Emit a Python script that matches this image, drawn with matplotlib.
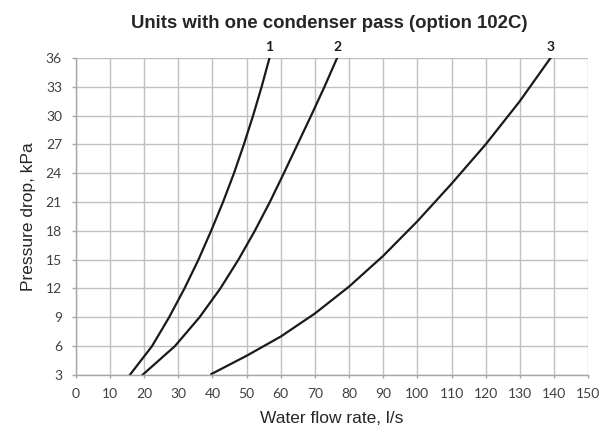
import matplotlib
matplotlib.use("Agg")
import matplotlib.pyplot as plt

# Curves 1 and 2: flow rate (l/s) read at each pressure gridline (kPa)
pressure_12 = [3, 6, 9, 12, 15, 18, 21, 24, 27, 30, 33, 36]
flow_1 = [15.8, 22.3, 27.3, 31.8, 35.9, 39.6, 43.1, 46.3, 49.2, 51.9, 54.4, 56.7]
flow_2 = [19.5, 29.0, 36.2, 42.3, 47.6, 52.4, 56.8, 60.9, 64.9, 68.9, 72.8, 76.5]
# Curve 3: pressure drop (kPa) read at each flow gridline (l/s)
flow_3 = [39.7, 50, 60, 70, 80, 90, 100, 110, 120, 130, 139]
pressure_3 = [3.1, 5.0, 7.0, 9.4, 12.2, 15.4, 19.0, 22.9, 27.0, 31.5, 36.0]
curve_names = ["1", "2", "3"]

x_ticks = list(range(0, 151, 10))
y_ticks = list(range(3, 37, 3))

tick_font = "Lato"
label_font = "Liberation Sans"

fig = plt.figure(figsize=(6.02, 4.32), dpi=100)
ax = fig.add_axes([0.126, 0.132, 0.851, 0.734])

curves = [(flow_1, pressure_12), (flow_2, pressure_12), (flow_3, pressure_3)]
for (flow, dp), name in zip(curves, curve_names):
    ax.plot(flow, dp, color="#1a1a1a", linewidth=1.6, solid_joinstyle="round")
    ax.text(flow[-1], dp[-1] + 0.69, name, ha="center", va="baseline",
            fontsize=10, fontweight="bold", family=tick_font, color="#1a1a1a")

ax.set_xlim(0, 150)
ax.set_ylim(3, 36)
ax.set_xticks(x_ticks)
ax.set_yticks(y_ticks)
ax.grid(True, color="#c0c0c0", linewidth=1.0)
ax.set_axisbelow(True)

for side in ["top", "right"]:
    ax.spines[side].set_visible(False)
for side in ["left", "bottom"]:
    ax.spines[side].set_color("#a6a6a6")
    ax.spines[side].set_linewidth(1.0)

ax.tick_params(axis="y", length=3, width=1, color="#a6a6a6", pad=7)
ax.tick_params(axis="x", length=2.5, width=1, color="#a6a6a6", pad=7)
for lab in ax.get_xticklabels() + ax.get_yticklabels():
    lab.set_family(tick_font)
    lab.set_fontsize(10)
    lab.set_color("#404040")

ax.set_xlabel("Water flow rate, l/s", family=label_font, fontsize=12.5, color="#262626", labelpad=8)
ax.set_ylabel("Pressure drop, kPa", family=label_font, fontsize=12.5, color="#262626", labelpad=7)
fig.text(329 / 602, 1 - 28.3 / 432, "Units with one condenser pass (option 102C)", ha="center",
         va="baseline", family=label_font, fontsize=13.4, fontweight="bold", color="#262626")

fig.savefig("out.png", dpi=100)
